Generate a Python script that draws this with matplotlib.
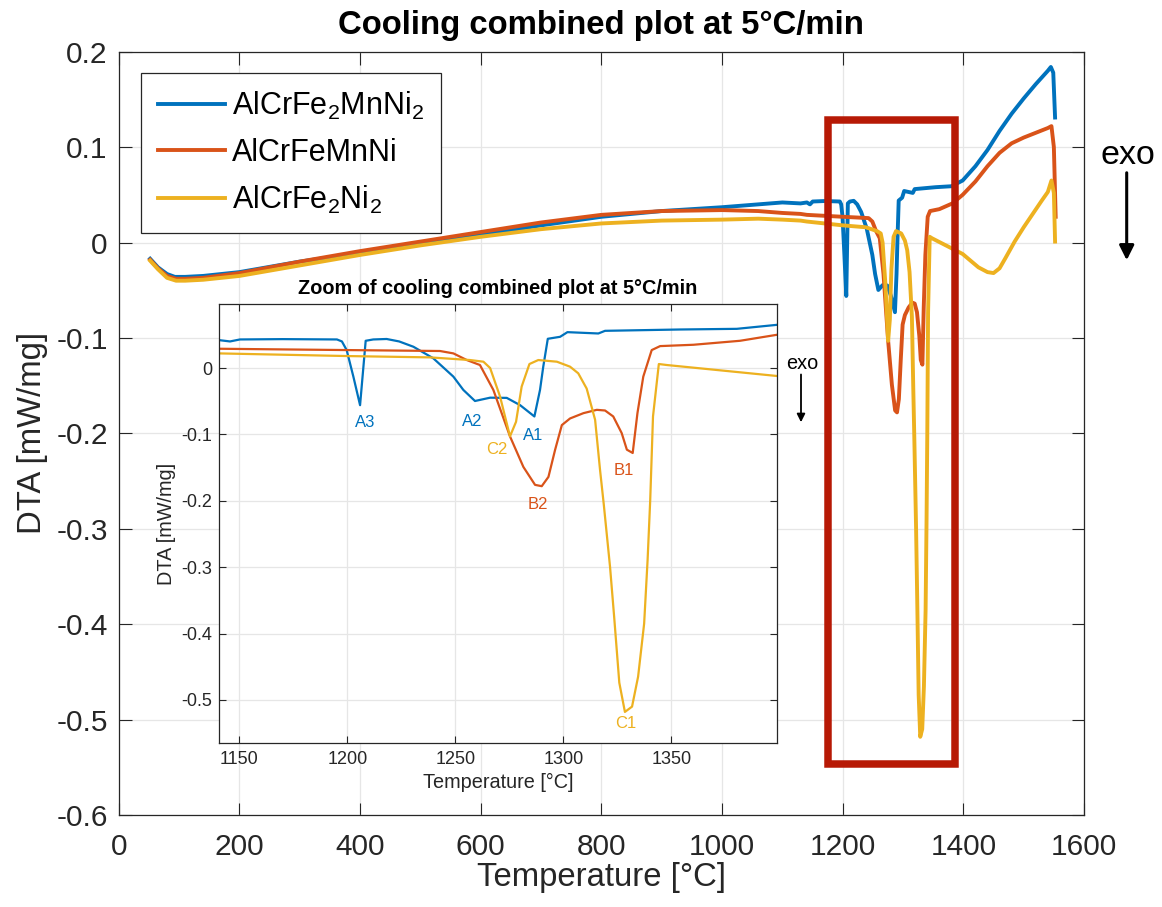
import numpy as np
import matplotlib
matplotlib.use('Agg')
import matplotlib.pyplot as plt
from matplotlib.ticker import FuncFormatter
from matplotlib.patches import Rectangle, FancyArrowPatch

plt.rcParams['font.family'] = ['Liberation Sans', 'DejaVu Sans']
plt.rcParams['mathtext.fontset'] = 'custom'
plt.rcParams['mathtext.rm'] = 'Liberation Sans'
plt.rcParams['mathtext.it'] = 'Liberation Sans:italic'
plt.rcParams['axes.unicode_minus'] = False

# ---- data (temperature in C, DTA in mW/mg) ----
labels = [r'AlCrFe$_2$MnNi$_2$', 'AlCrFeMnNi', r'AlCrFe$_2$Ni$_2$']

blue_T = [52, 65, 80, 93, 110, 140, 200, 300, 400, 500, 600, 700, 800, 900, 1000, 1060, 1100, 1130,
          1140.6, 1145.7, 1150.3, 1170, 1195.2, 1197.5, 1199.7, 1202.8, 1205.9, 1208.5, 1212, 1218.2,
          1224, 1230.6, 1239.8, 1249.1, 1253.7, 1259.1, 1266.1, 1273.8, 1280, 1286.6, 1289.2, 1290.7,
          1292.8, 1298.5, 1301.9, 1316.2, 1319.3, 1354, 1380.3, 1398.8,
          1420, 1440, 1460, 1480, 1500, 1520, 1540, 1545, 1549, 1552]
blue_dta = [-0.017, -0.026, -0.033, -0.036, -0.036, -0.035, -0.031, -0.020, -0.011, -0.002, 0.008, 0.018, 0.027, 0.033, 0.037, 0.040, 0.042, 0.041,
            0.042, 0.040, 0.043, 0.0435, 0.043, 0.040, 0.027, -0.013, -0.056, 0.041, 0.043, 0.0437,
            0.040, 0.032, 0.0146, -0.013, -0.033, -0.0497, -0.0447, -0.045, -0.056, -0.073, -0.033, 0.002,
            0.044, 0.047, 0.054, 0.052, 0.056, 0.058, 0.059, 0.065,
            0.080, 0.097, 0.117, 0.135, 0.151, 0.166, 0.180, 0.184, 0.178, 0.131]

red_T = [52, 65, 80, 95, 110, 140, 200, 300, 400, 500, 600, 700, 800, 900, 1000, 1060, 1100, 1130,
         1140.6, 1200, 1242.9, 1249.1, 1255.3, 1261.4, 1267.6, 1275.3, 1281.5, 1286.9, 1290, 1293.1,
         1296.2, 1299.3, 1303.1, 1309.3, 1315.5, 1319.3, 1323.1, 1327, 1329.4, 1332.1, 1334.3, 1337,
         1340.9, 1344.8, 1360.2, 1381.8, 1398.8,
         1420, 1440, 1460, 1480, 1500, 1520, 1540, 1546, 1550, 1553]
red_dta = [-0.018, -0.027, -0.035, -0.038, -0.038, -0.037, -0.032, -0.020, -0.009, 0.001, 0.011, 0.021, 0.029, 0.033, 0.034, 0.033, 0.031, 0.030,
           0.029, 0.027, 0.0256, 0.022, 0.012, 0.0045, -0.033, -0.103, -0.149, -0.176, -0.178, -0.164,
           -0.123, -0.086, -0.076, -0.068, -0.063, -0.064, -0.073, -0.098, -0.123, -0.128, -0.068, -0.013,
           0.027, 0.033, 0.035, 0.041, 0.050,
           0.064, 0.080, 0.094, 0.104, 0.110, 0.115, 0.120, 0.122, 0.100, 0.027]

yellow_T = [52, 65, 80, 95, 110, 140, 200, 300, 400, 500, 600, 700, 800, 900, 1000, 1060, 1100, 1130,
            1140.6, 1200, 1238.3, 1256.8, 1263, 1266.1, 1270.7, 1275.3, 1278.1, 1280.7, 1284.3, 1288.4,
            1297, 1303.1, 1306.9, 1310.8, 1314.7, 1317, 1318.7, 1321.6, 1323.5, 1325.9, 1328.5, 1331.8,
            1334.6, 1337.4, 1339, 1340.2, 1341.5, 1344.2, 1347.9, 1398.8,
            1410, 1425, 1440, 1450, 1460, 1470, 1485, 1500, 1515, 1530, 1540, 1546, 1550, 1552]
yellow_dta = [-0.019, -0.028, -0.037, -0.040, -0.040, -0.039, -0.035, -0.024, -0.013, -0.003, 0.006, 0.014, 0.020, 0.023, 0.024, 0.025, 0.024, 0.023,
              0.022, 0.018, 0.016, 0.012, 0.0095, 0.0, -0.043, -0.103, -0.081, -0.028, 0.006, 0.012,
              0.0095, 0.002, -0.008, -0.031, -0.078, -0.154, -0.205, -0.299, -0.374, -0.474, -0.518, -0.510,
              -0.465, -0.385, -0.289, -0.200, -0.073, 0.006, 0.0045, -0.012,
              -0.018, -0.026, -0.031, -0.032, -0.027, -0.016, 0.001, 0.016, 0.030, 0.044, 0.053, 0.065, 0.052, 0.001]

peak_names = ['A3', 'A2', 'A1', 'B2', 'B1', 'C2', 'C1']
peak_T = [1208.2, 1257.9, 1286.1, 1288.4, 1328.2, 1269.2, 1329]
peak_dta = [-0.082, -0.081, -0.102, -0.206, -0.155, -0.123, -0.536]
peak_series = [0, 0, 0, 1, 1, 2, 2]

colors = ['#0072BD', '#D95319', '#EDB120']
series = [(blue_T, blue_dta), (red_T, red_dta), (yellow_T, yellow_dta)]
axcol = '#262626'
gridcol = '#E6E6E6'


def matlab_fmt(v, pos):
    if abs(v) < 1e-9:
        return '0'
    return '%g' % round(v, 6)


def style_axes(ax, ticklen):
    ax.set_axisbelow(True)
    ax.grid(True, color=gridcol, lw=0.9)
    ax.tick_params(direction='in', top=True, right=True, length=ticklen, width=0.8,
                   colors=axcol, labelcolor=axcol)
    for s in ax.spines.values():
        s.set_color(axcol)
        s.set_linewidth(0.9)
    ax.xaxis.set_major_formatter(FuncFormatter(matlab_fmt))
    ax.yaxis.set_major_formatter(FuncFormatter(matlab_fmt))


fig = plt.figure(figsize=(11.62, 9.07), dpi=100)

# main axes
ax = fig.add_axes([0.1022, 0.1014, 0.8307, 0.8416])
for (t, d), c, lab in zip(series, colors, labels):
    ax.plot(t, d, color=c, lw=2.8, label=lab)
ax.set_xlim(0, 1600)
ax.set_ylim(-0.6, 0.2)
ax.set_xticks(np.arange(0, 1601, 200))
ax.set_yticks(np.arange(-0.6, 0.201, 0.1))
style_axes(ax, 9)
ax.tick_params(labelsize=21.5)
ax.tick_params(axis='x', pad=13)
ax.tick_params(axis='y', pad=8)
ax.set_xlabel('Temperature [°C]', fontsize=23.7, color=axcol, labelpad=1)
ax.set_ylabel('DTA [mW/mg]', fontsize=23.7, color=axcol, labelpad=6)
ax.set_title('Cooling combined plot at 5°C/min', fontsize=23.7, fontweight='bold', pad=13)

ax.add_patch(Rectangle((1175.5, -0.547), 1385.4 - 1175.5, 0.1287 + 0.547, fill=False,
                       edgecolor='#B71905', lw=5.4, zorder=5))

leg = ax.legend(loc='upper left', bbox_to_anchor=(140.7 / 1162, 1 - 73 / 907),
                bbox_transform=fig.transFigure, borderaxespad=0, fontsize=22,
                fancybox=False, edgecolor=axcol, framealpha=1, handlelength=2.2,
                handletextpad=0.25, labelspacing=0.52, borderpad=0.55)
leg.get_frame().set_linewidth(0.9)

fig.text(1127.5 / 1162, 1 - 156 / 907, 'exo', fontsize=24.5, ha='center', va='center')
fig.add_artist(FancyArrowPatch((1126.7 / 1162, 1 - 170 / 907), (1126.7 / 1162, 1 - 263 / 907),
                               transform=fig.transFigure, arrowstyle='-|>', mutation_scale=22,
                               lw=2.2, color='black'))

# inset axes
axi = fig.add_axes([219 / 1162, 1 - 743 / 907, 558 / 1162, 439 / 907])
for (t, d), c in zip(series, colors):
    axi.plot(t, d, color=c, lw=1.6)
axi.set_xlim(1140.6, 1398.9)
axi.set_ylim(-0.5648, 0.0964)
axi.set_xticks([1150, 1200, 1250, 1300, 1350])
axi.set_yticks([-0.5, -0.4, -0.3, -0.2, -0.1, 0])
style_axes(axi, 5)
axi.tick_params(labelsize=13)
axi.tick_params(axis='x', pad=6)
axi.tick_params(axis='y', pad=5)
axi.set_xlabel('Temperature [°C]', fontsize=14.3, color=axcol, labelpad=3)
axi.set_ylabel('DTA [mW/mg]', fontsize=14.3, color=axcol, labelpad=4)
axi.set_title('Zoom of cooling combined plot at 5°C/min', fontsize=14.3, fontweight='bold', pad=7)

for name, t, d, s in zip(peak_names, peak_T, peak_dta, peak_series):
    axi.text(t, d, name, color=colors[s], fontsize=12, ha='center', va='center')

fig.text(802 / 1162, 1 - 363.5 / 907, 'exo', fontsize=14.3, ha='center', va='center')
fig.add_artist(FancyArrowPatch((801 / 1162, 1 - 371.7 / 907), (801 / 1162, 1 - 425 / 907),
                               transform=fig.transFigure, arrowstyle='-|>', mutation_scale=12,
                               lw=1.3, color='black'))

fig.savefig('out.png', dpi=100)
